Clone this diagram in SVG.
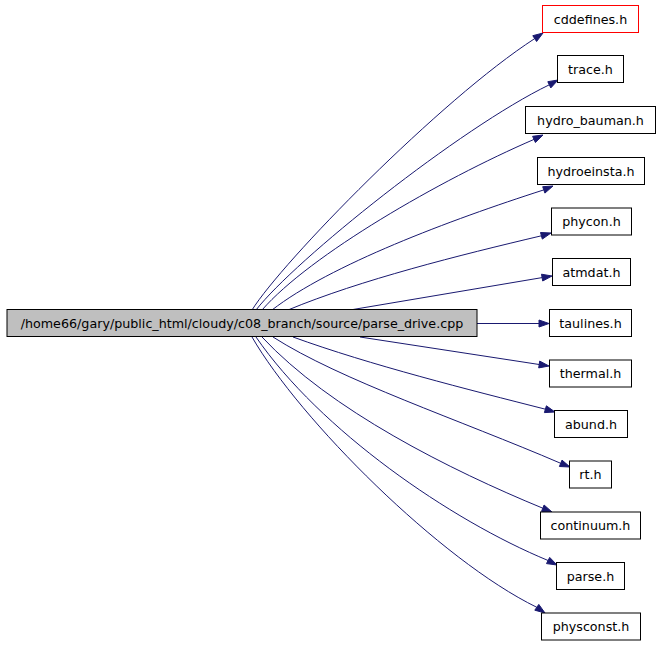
<svg xmlns="http://www.w3.org/2000/svg" width="661" height="645" viewBox="0 0 661 645">
<style>
.n rect{fill:#ffffff;stroke:#000000;stroke-width:1}
.n text{font-family:"DejaVu Sans","Liberation Sans",sans-serif;font-size:12.7px;text-anchor:middle;fill:#000000}
.e path{fill:none;stroke:#191970;stroke-width:1}
.e polygon{fill:#191970;stroke:#191970;stroke-width:1}
</style>
<rect width="661" height="645" fill="#ffffff"/>
<g id="connectors" class="e">
<path d="M252,310 C282,262 440,100 534.7,38.6"/><polygon points="543,33 536.6,41.5 532.8,35.7"/>
<path d="M256,310 C295,260 460,128 549.3,84.8"/><polygon points="558,80 550.8,87.9 547.8,81.7"/>
<path d="M262,310 C310,255 440,180 534,139.4"/><polygon points="543,135 535.4,142.5 532.6,136.3"/>
<path d="M272,310 C330,265 450,220 543.8,189.9"/><polygon points="553,186 544.9,193.1 542.7,186.7"/>
<path d="M288,310 C360,280 460,255 541.4,235.8"/><polygon points="551,233 542.3,239.1 540.5,232.5"/>
<path d="M350,310 L542.1,277.6"/><polygon points="552,276 542.7,281 541.5,274.2"/>
<path d="M477,323.5 L539,323.5"/><polygon points="549,323.5 539,327 539,320"/>
<path d="M360,337 L539.2,364.5"/><polygon points="549,366 538.7,367.9 539.7,361.1"/>
<path d="M293,337 C370,365 470,390 545.4,409.2"/><polygon points="555,412 544.4,412.6 546.4,405.8"/>
<path d="M273,337 C340,380 460,420 560.7,463.3"/><polygon points="570,467 559.4,466.5 562.0,460.1"/>
<path d="M262,337 C330,410 450,470 542.8,508.2"/><polygon points="552,512 541.5,511.4 544.1,505.0"/>
<path d="M256,337 C320,430 450,520 548.1,560.5"/><polygon points="557,565 546.5,563.6 549.7,557.4"/>
<path d="M252,337 C300,420 440,560 536.8,607.3"/><polygon points="545,613 534.8,610.2 538.8,604.4"/>
</g>
<g id="node_src" class="n"><rect x="7" y="309.5" width="470" height="27" style="fill:#bfbfbf"/><text x="242" y="327.5">/home66/gary/public_html/cloudy/c08_branch/source/parse_drive.cpp</text></g>
<g id="node_cddefines" class="n"><rect x="542.5" y="5.5" width="96" height="27" style="stroke:#ff0000"/><text x="590.5" y="23.5">cddefines.h</text></g>
<g id="node_trace" class="n"><rect x="557.5" y="55.5" width="66" height="27"/><text x="590.5" y="73.5">trace.h</text></g>
<g id="node_hydro_bauman" class="n"><rect x="525.5" y="106.5" width="130" height="27"/><text x="590.5" y="124.5">hydro_bauman.h</text></g>
<g id="node_hydroeinsta" class="n"><rect x="537.5" y="157.5" width="107" height="27"/><text x="591" y="175.5">hydroeinsta.h</text></g>
<g id="node_phycon" class="n"><rect x="551.5" y="208" width="80" height="27"/><text x="591.5" y="226">phycon.h</text></g>
<g id="node_atmdat" class="n"><rect x="552.5" y="258.5" width="78" height="27"/><text x="591.5" y="276.5">atmdat.h</text></g>
<g id="node_taulines" class="n"><rect x="549.5" y="309.5" width="82" height="27"/><text x="590.5" y="327.5">taulines.h</text></g>
<g id="node_thermal" class="n"><rect x="549.5" y="360" width="82" height="27"/><text x="590.5" y="378">thermal.h</text></g>
<g id="node_abund" class="n"><rect x="554.5" y="410.5" width="73" height="27"/><text x="591" y="428.5">abund.h</text></g>
<g id="node_rt" class="n"><rect x="569.5" y="461" width="42" height="27"/><text x="590.5" y="479">rt.h</text></g>
<g id="node_continuum" class="n"><rect x="540.5" y="512" width="100" height="27"/><text x="590.5" y="530">continuum.h</text></g>
<g id="node_parse" class="n"><rect x="556.5" y="562.5" width="68" height="27"/><text x="590.5" y="580.5">parse.h</text></g>
<g id="node_physconst" class="n"><rect x="541.5" y="613" width="99" height="27"/><text x="591" y="631">physconst.h</text></g>
</svg>
